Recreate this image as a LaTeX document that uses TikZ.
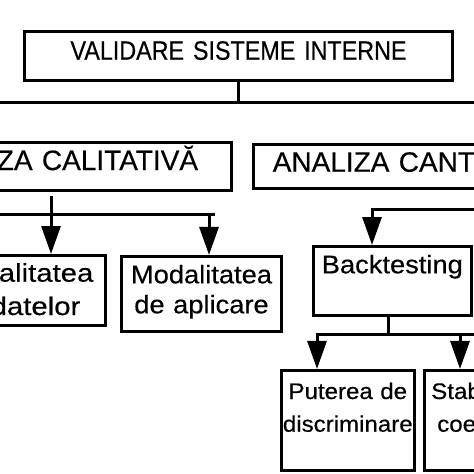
\documentclass[tikz,border=0pt]{standalone}
\usepackage{fontspec}
\setmainfont{Liberation Sans}[FakeBold=0.4]
\newfontfamily\capsfont[FakeStretch=0.88, FakeBold=0.4]{Liberation Sans}
\newfontfamily\widefont[FakeStretch=1.07, FakeBold=0.4]{Liberation Sans}
\newfontfamily\widerfont[FakeStretch=1.15, FakeBold=0.4]{Liberation Sans}
\usetikzlibrary{arrows.meta}

\begin{document}
\begin{tikzpicture}[x=1pt, y=-1pt]
\tikzstyle{box} = [rectangle, draw = black, line width = 3pt, inner sep = 0pt, align = center]
\tikzstyle{rootbox} = [box, font = \capsfont\fontsize{26.5}{30}\selectfont, text height = 19pt]
\tikzstyle{areabox} = [box, font = \fontsize{28}{32}\selectfont, text height = 20pt]
\tikzstyle{itembox} = [box, font = \widefont\fontsize{25.5}{30}\selectfont, text height = 18pt]
\tikzstyle{testbox} = [box, font = \widefont\fontsize{22.5}{32.7}\selectfont, text height = 16pt]
\tikzstyle{edge} = [line width = 3pt]
\tikzstyle{arrow} = [-{Triangle[width = 19pt, length = 28pt]}, line width = 3pt]
\useasboundingbox (0, 0) rectangle (474, 474);
\clip (0, 0) rectangle (474, 474);
% -----------------------------------
% Root
\node[rootbox, minimum width = 428pt, minimum height = 49pt, text width = 400pt, text depth = 11.6pt] (root) at (238.5, 56) {VALIDARE SISTEME INTERNE};

\coordinate (barL) at (-10, 102);
\coordinate (barR) at (484, 102);
\draw[edge] (barL) -- (barR);
\draw[edge] (root.south) -- (root.south |- barL);

% -----------------------------------
% Areas
\node[areabox, minimum width = 349pt, minimum height = 48.6pt, text width = 330pt, text depth = 13pt] (quali) at (57, 166.5) {ANALIZA CALITATIVĂ};
\node[areabox, minimum width = 342.4pt, minimum height = 43.7pt, text width = 330pt, text depth = 10pt] (quanti) at (424.7, 166.7) {ANALIZA CANTITATIVĂ};

% -----------------------------------
% Qualitative branch
\node[itembox, font = \widerfont\fontsize{25.5}{33.3}\selectfont, minimum width = 140pt, minimum height = 70pt, text width = 135pt, text depth = 35.6pt] (datq) at (35.5, 290.5) {Calitatea\\datelor};
\node[itembox, minimum width = 160pt, minimum height = 74.7pt, text width = 150pt, text depth = 39pt] (appm) at (201.5, 293.8) {Modalitatea\\de aplicare};

\coordinate (qL) at (-10, 214);
\coordinate (qA) at (51, 214);
\coordinate (qB) at (209, 214);
\coordinate (qR) at (215, 214);
\draw[edge] (qB) -- (qR);
\draw[arrow] (qL) -- (qB) -- (appm.north -| qB);
\draw[arrow, shorten <= 4pt] (quali.south -| qA) -- (datq.north -| qA);

% -----------------------------------
% Quantitative branch
\node[itembox, minimum width = 158.3pt, minimum height = 69pt, text width = 150pt, text depth = 33.4pt] (btest) at (392.3, 281) {Backtesting};
\node[testbox, minimum width = 132.7pt, minimum height = 99.7pt, text width = 130pt, text depth = 58.6pt] (disc) at (347.8, 420.3) {Puterea de\\discriminare};
\node[testbox, minimum width = 132.7pt, minimum height = 99.7pt, text width = 130pt, text depth = 58.6pt] (stab) at (490.8, 420.3) {Stabilitatea\\coeficienți};

\coordinate (tR) at (484, 209);
\coordinate (tA) at (372, 209);
\draw[arrow] (tR) -- (tA) -- (btest.north -| tA);

\coordinate (sA) at (317, 334);
\coordinate (sM) at (388, 334);
\coordinate (sB) at (460, 334);
\coordinate (sR) at (484, 334);
\draw[edge] (btest.south -| sM) -- (sM);
\draw[arrow] (sR) -- (sA) -- (disc.north -| sA);
\draw[arrow] (sB) -- (stab.north -| sB);
% -----------------------------------
\end{tikzpicture}
\end{document}
